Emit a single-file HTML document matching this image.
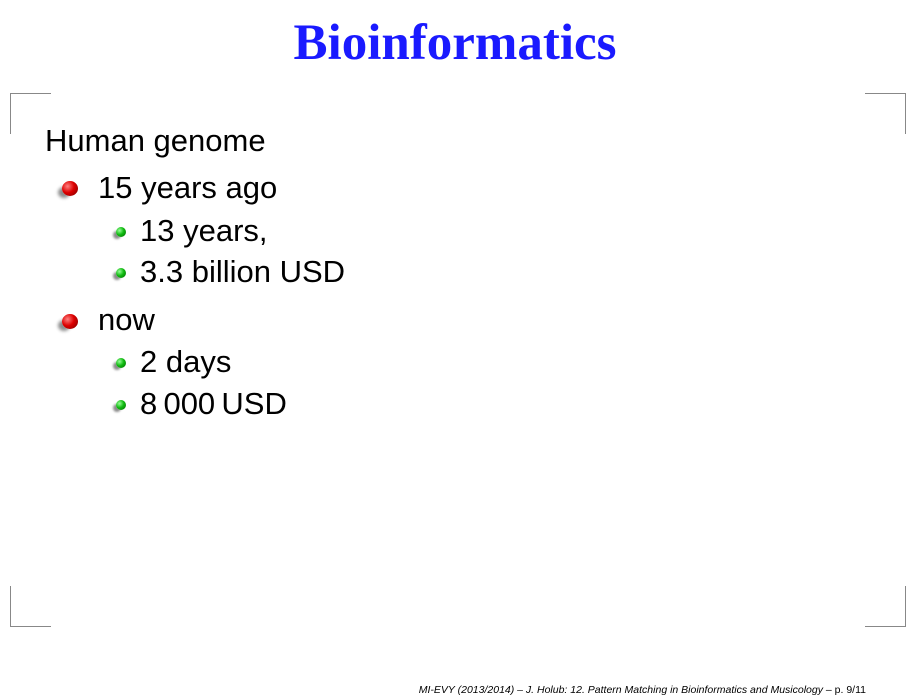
<!DOCTYPE html>
<html><head><meta charset="utf-8"><style>
body{margin:0;width:914px;height:700px;background:#fff;position:relative;overflow:hidden;font-family:"Liberation Sans",sans-serif}
.t{position:absolute;line-height:1;white-space:nowrap;color:#000;font-size:31px}
.c{position:absolute;background:#888}
.b1{position:absolute;width:16px;height:15px;border-radius:50%;background:radial-gradient(circle at 35% 35%,#ff8080,#d00 45%,#700);box-shadow:-6px 4px 3px -2px rgba(0,0,0,.45)}
.b2{position:absolute;width:10px;height:10px;border-radius:50%;background:radial-gradient(circle at 35% 35%,#9f9,#1b1 45%,#060);box-shadow:-4px 3px 2px -1px rgba(0,0,0,.45)}
</style></head><body>
<div class="t" style="left:-2px;width:914px;text-align:center;top:18px;font-family:'Liberation Serif',serif;font-weight:bold;font-size:51px;color:#1a1aff">Bioinformatics</div>
<div class="c" style="left:10px;top:93px;width:41px;height:1px"></div>
<div class="c" style="left:10px;top:93px;width:1px;height:41px"></div>
<div class="c" style="left:865px;top:93px;width:41px;height:1px"></div>
<div class="c" style="left:905px;top:93px;width:1px;height:41px"></div>
<div class="c" style="left:10px;top:626px;width:41px;height:1px"></div>
<div class="c" style="left:10px;top:586px;width:1px;height:41px"></div>
<div class="c" style="left:865px;top:626px;width:41px;height:1px"></div>
<div class="c" style="left:905px;top:586px;width:1px;height:41px"></div>
<div class="t" style="left:45px;top:125px">Human genome</div>
<div class="b1" style="left:62px;top:181px"></div>
<div class="t" style="left:98px;top:172px">15 years ago</div>
<div class="b2" style="left:116px;top:227px"></div>
<div class="t" style="left:140px;top:215px">13 years,</div>
<div class="b2" style="left:116px;top:268px"></div>
<div class="t" style="left:140px;top:256px">3.3 billion USD</div>
<div class="b1" style="left:62px;top:314px"></div>
<div class="t" style="left:98px;top:304px">now</div>
<div class="b2" style="left:116px;top:358px"></div>
<div class="t" style="left:140px;top:346px">2 days</div>
<div class="b2" style="left:116px;top:400px"></div>
<div class="t" style="left:140px;top:388px">8&#8201;000&#8201;USD</div>
<div class="t" style="right:48px;top:685px;font-size:10.5px"><i>MI-EVY (2013/2014) – J. Holub: 12. Pattern Matching in Bioinformatics and Musicology</i> – p. 9/11</div>
</body></html>
